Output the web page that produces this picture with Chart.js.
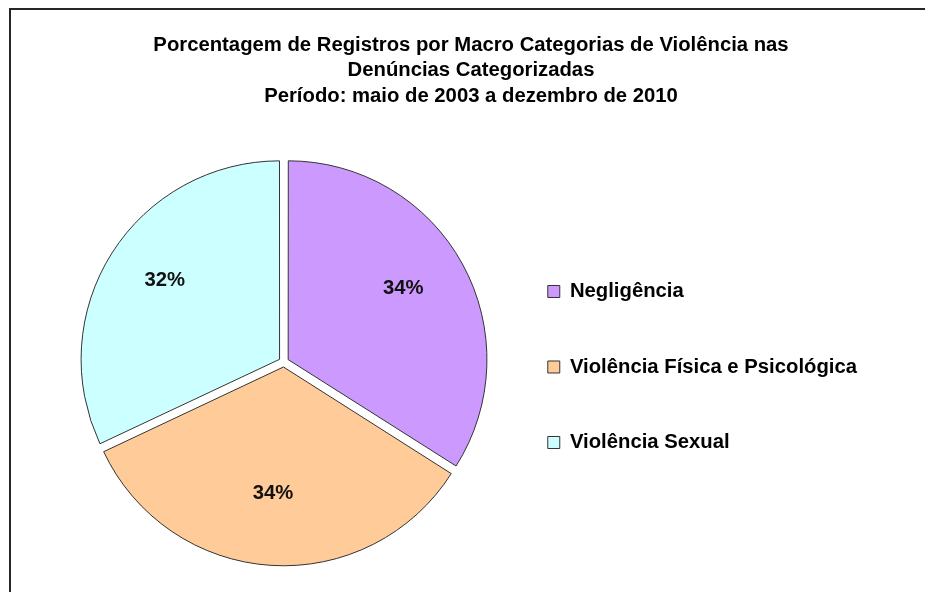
<!DOCTYPE html>
<html>
<head>
<meta charset="utf-8">
<script src="https://cdn.jsdelivr.net/npm/chart.js@4.4.1/dist/chart.umd.min.js"></script>
<style>
  html, body { margin: 0; padding: 0; background: #fff; overflow: hidden; }
  #wrap { position: relative; width: 925px; height: 592px; overflow: hidden; }
  #frame { position: absolute; left: 9px; top: 8px; width: 960px; height: 620px;
           border: 2px solid #262626; box-sizing: border-box; pointer-events: none; }
  canvas { position: absolute; left: 0; top: 0; }
</style>
</head>
<body>
<div id="wrap">
  <canvas id="grafico" width="925" height="592"></canvas>
  <div id="frame"></div>
</div>
<script>
const categorias = ["Negligência", "Violência Física e Psicológica", "Violência Sexual"];
const percentuais = [34, 34, 32];
const cores = ["#CC99FF", "#FFCC99", "#CCFFFF"];
const tituloLinhas = [
  "Porcentagem de Registros por Macro Categorias de Violência nas",
  "Denúncias Categorizadas",
  "Período: maio de 2003 a dezembro de 2010"
];

const fonte = "'Liberation Sans', Arial, sans-serif";
const tamFonte = 20.3;

// rótulos de porcentagem dentro de cada fatia
const rotulosFatias = {
  id: "rotulosFatias",
  afterDatasetsDraw(chart) {
    const ctx = chart.ctx;
    const meta = chart.getDatasetMeta(0);
    ctx.save();
    ctx.font = "bold " + tamFonte + "px " + fonte;
    ctx.fillStyle = "#111";
    ctx.textAlign = "center";
    ctx.textBaseline = "middle";
    meta.data.forEach((arc, i) => {
      const p = arc.getProps(["x", "y", "startAngle", "endAngle", "outerRadius"], true);
      const meio = (p.startAngle + p.endAngle) / 2;
      const r = p.outerRadius * 0.68 + 4;
      ctx.fillText(percentuais[i] + "%", p.x + Math.cos(meio) * r - 2, p.y + Math.sin(meio) * r - 7);
    });
    ctx.restore();
  }
};

Chart.defaults.color = "#000";
Chart.defaults.font.family = fonte;

new Chart(document.getElementById("grafico"), {
  type: "pie",
  data: {
    labels: categorias,
    datasets: [{
      data: percentuais,
      backgroundColor: cores,
      borderColor: "#333",
      borderWidth: 1,
      offset: 20
    }]
  },
  options: {
    responsive: false,
    animation: false,
    radius: 198,
    layout: { padding: { left: 75, right: 58, top: 0, bottom: 0 } },
    plugins: {
      title: {
        display: true,
        text: tituloLinhas,
        font: { size: tamFonte, weight: "bold", lineHeight: 1.256 },
        color: "#000",
        padding: { top: 32.25, bottom: 23.25 }
      },
      legend: {
        position: "right",
        align: "center",
        fullSize: false,
        // título vazio só para descer um pouco os itens
        title: { display: true, text: "", padding: 0, font: { size: 10, lineHeight: 1 } },
        labels: {
          boxWidth: 12,
          boxHeight: 12,
          padding: 55.2,
          font: { size: tamFonte, weight: "bold" },
          color: "#000"
        }
      },
      tooltip: { enabled: false }
    }
  },
  plugins: [rotulosFatias]
});
</script>
</body>
</html>
